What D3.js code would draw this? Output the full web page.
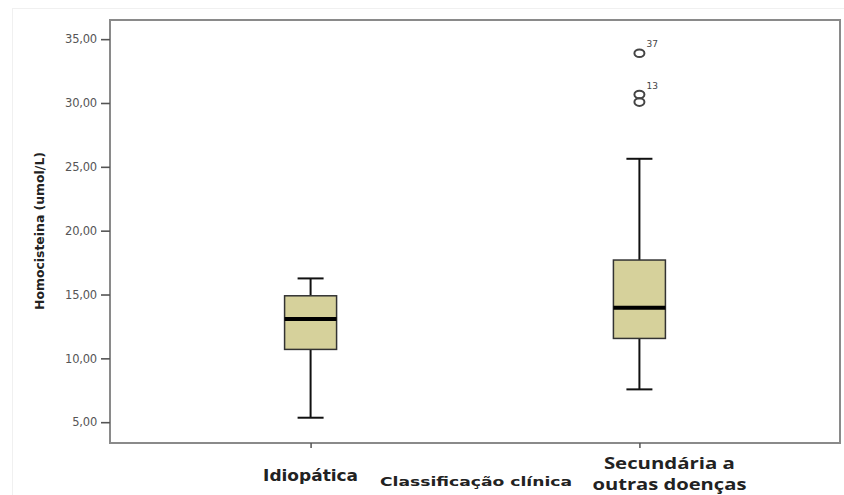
<!DOCTYPE html>
<html>
<head>
<meta charset="utf-8">
<script src="https://cdn.jsdelivr.net/npm/d3@7/dist/d3.min.js"></script>
<style>
  html, body { margin: 0; padding: 0; background: #fff; }
  svg { display: block; }
</style>
</head>
<body>
<svg id="chart" width="844" height="495"></svg>
<script>
// Homocisteína by clinical classification — box plot data
const categories = ["Idiopática", "Secundária a outras doenças"];
const whiskerLow = [5.35, 7.57];
const q1 = [10.7, 11.56];
const median = [13.08, 13.96];
const q3 = [14.9, 17.7];
const whiskerHigh = [16.26, 25.63];
// outliers: [category index, value, case label]
const outlierValues = [[1, 33.9, "37"], [1, 30.66, "13"], [1, 30.07, ""]];
const yTicks = [5, 10, 15, 20, 25, 30, 35];

const svg = d3.select("#chart");
const plotLeft = 110, plotRight = 840, plotTop = 20, plotBottom = 443;

// faint outer page frame
svg.append("rect")
  .attr("x", 12.5).attr("y", 8.5).attr("width", 840).attr("height", 500)
  .attr("fill", "none").attr("stroke", "#f0f0f0").attr("stroke-width", 1);

const y = d3.scaleLinear().domain([3.37, 36.5]).range([plotBottom, plotTop]);
const x = d3.scalePoint().domain(categories).range([plotLeft, plotRight]).padding(0.61);

// plot frame
svg.append("rect")
  .attr("x", plotLeft).attr("y", plotTop)
  .attr("width", plotRight - plotLeft).attr("height", plotBottom - plotTop)
  .attr("fill", "none").attr("stroke", "#8a8a8a").attr("stroke-width", 2);

// y axis
const yAxis = svg.append("g")
  .attr("transform", `translate(${plotLeft},0)`)
  .call(d3.axisLeft(y).tickValues(yTicks).tickSize(9).tickPadding(4)
    .tickFormat(d => d3.format(".2f")(d).replace(".", ",")));
yAxis.select(".domain").remove();
yAxis.selectAll(".tick line").attr("stroke", "#555").attr("stroke-width", 1.6);
yAxis.selectAll(".tick text")
  .attr("fill", "#555").attr("font-family", "DejaVu Sans")
  .attr("font-size", 11.5).attr("letter-spacing", "-0.2");

// x axis ticks
const xAxis = svg.append("g")
  .attr("transform", `translate(0,${plotBottom})`)
  .call(d3.axisBottom(x).tickSize(5).tickFormat(""));
xAxis.select(".domain").remove();
xAxis.selectAll(".tick line").attr("stroke", "#555").attr("stroke-width", 1.5);

// axis titles
svg.append("text")
  .attr("transform", "translate(44,231) rotate(-90)")
  .attr("text-anchor", "middle")
  .attr("font-family", "DejaVu Sans").attr("font-weight", "bold")
  .attr("font-size", 12.5).attr("fill", "#222")
  .attr("textLength", 158).attr("lengthAdjust", "spacingAndGlyphs")
  .text("Homocisteina (umol/L)");

svg.append("text")
  .attr("x", 476).attr("y", 486)
  .attr("text-anchor", "middle")
  .attr("font-family", "DejaVu Sans").attr("font-weight", "bold")
  .attr("font-size", 13).attr("fill", "#222")
  .attr("textLength", 192).attr("lengthAdjust", "spacingAndGlyphs")
  .text("Classificação clínica");

// category labels
svg.append("text")
  .attr("x", x(categories[0])).attr("y", 481)
  .attr("text-anchor", "middle")
  .attr("font-family", "DejaVu Sans").attr("font-weight", "bold")
  .attr("font-size", 15).attr("fill", "#222")
  .attr("textLength", 95).attr("lengthAdjust", "spacingAndGlyphs")
  .text("Idiopática");

const secLines = ["Secundária a", "outras doenças"];
const secWidths = [131, 154];
secLines.forEach((t, i) => {
  svg.append("text")
    .attr("x", x(categories[1]) + 30).attr("y", 469 + i * 21)
    .attr("text-anchor", "middle")
    .attr("font-family", "Open Sans").attr("font-weight", "bold")
    .attr("font-size", 15.5).attr("fill", "#222")
    .attr("textLength", secWidths[i]).attr("lengthAdjust", "spacingAndGlyphs")
    .text(t);
});

// box plots
const boxW = 52, capW = 26;
const boxes = svg.append("g");
categories.forEach((c, i) => {
  const cx = x(c);
  const g = boxes.append("g");
  // whiskers
  g.append("line").attr("x1", cx).attr("x2", cx)
    .attr("y1", y(whiskerHigh[i])).attr("y2", y(q3[i]))
    .attr("stroke", "#111").attr("stroke-width", 2);
  g.append("line").attr("x1", cx).attr("x2", cx)
    .attr("y1", y(q1[i])).attr("y2", y(whiskerLow[i]))
    .attr("stroke", "#111").attr("stroke-width", 2);
  [whiskerHigh[i], whiskerLow[i]].forEach(v => {
    g.append("line").attr("x1", cx - capW / 2).attr("x2", cx + capW / 2)
      .attr("y1", y(v)).attr("y2", y(v))
      .attr("stroke", "#111").attr("stroke-width", 2);
  });
  // box
  g.append("rect")
    .attr("x", cx - boxW / 2).attr("y", y(q3[i]))
    .attr("width", boxW).attr("height", y(q1[i]) - y(q3[i]))
    .attr("fill", "#d6d19b").attr("stroke", "#333").attr("stroke-width", 1.5);
  // median
  g.append("line").attr("x1", cx - boxW / 2).attr("x2", cx + boxW / 2)
    .attr("y1", y(median[i])).attr("y2", y(median[i]))
    .attr("stroke", "#000").attr("stroke-width", 4);
});

// outliers
outlierValues.forEach(([ci, v, lab]) => {
  const cx = x(categories[ci]);
  svg.append("ellipse")
    .attr("cx", cx).attr("cy", y(v)).attr("rx", 5).attr("ry", 3.8)
    .attr("fill", "none").attr("stroke", "#444").attr("stroke-width", 2);
  if (lab) {
    svg.append("text")
      .attr("x", cx + 7).attr("y", y(v) - 6)
      .attr("font-family", "DejaVu Sans").attr("font-size", 9)
      .attr("fill", "#444").text(lab);
  }
});
</script>
</body>
</html>
